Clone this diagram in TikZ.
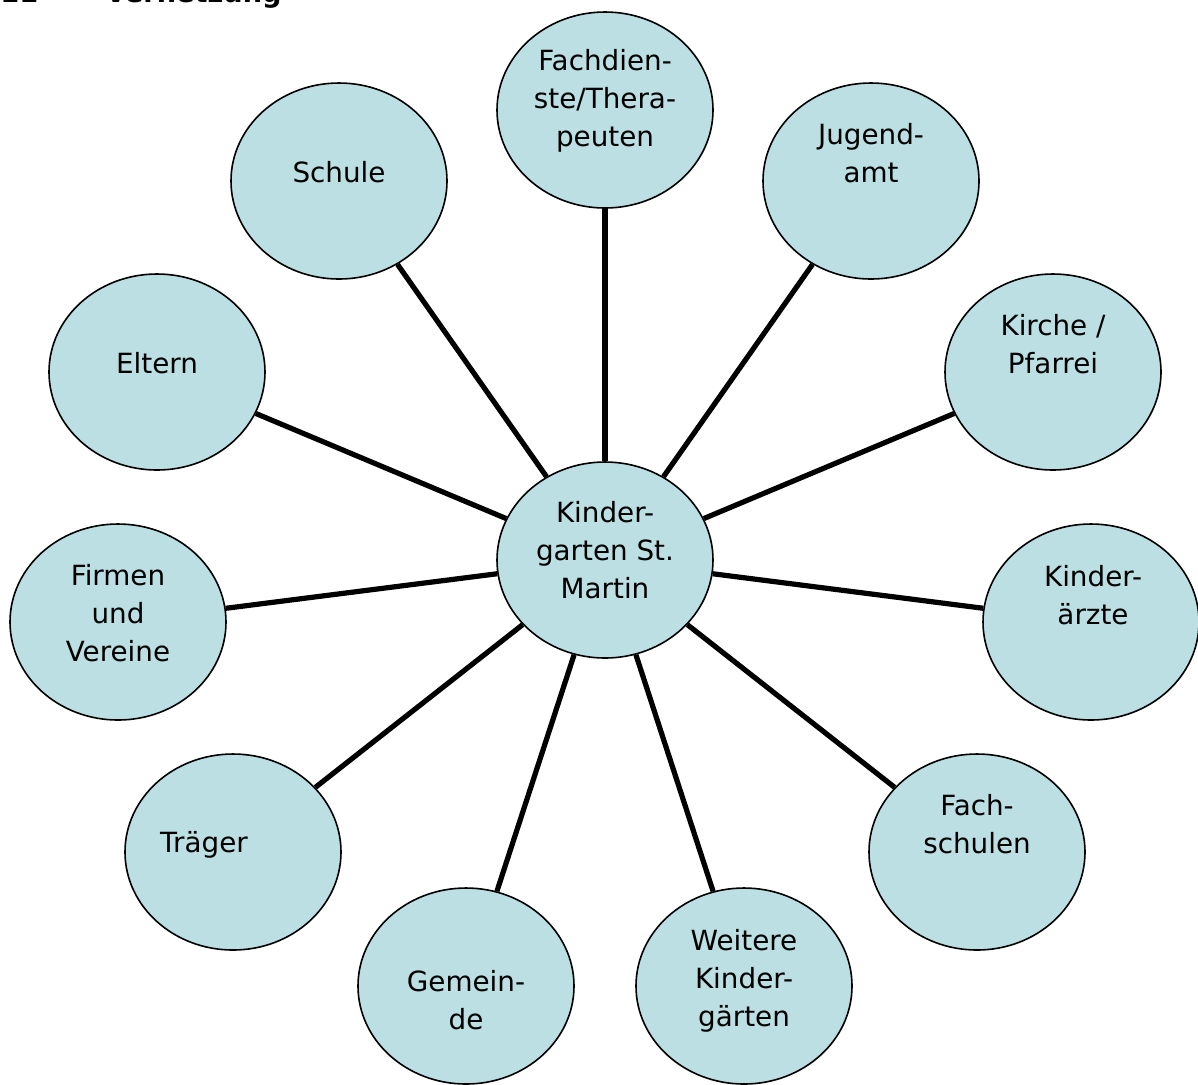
\documentclass[tikz,border=0pt]{standalone}
\usepackage{fontspec}
\setmainfont{DejaVu Sans}
\definecolor{partnerblue}{HTML}{BBDFE3}
\tikzset{
  partner/.style={draw=black, line width=0.8pt, fill=partnerblue, ellipse,
    minimum width=108pt, minimum height=98pt, inner sep=0pt},
  txt/.style={align=center, font=\fontsize{13.9}{19}\selectfont},
  link/.style={line width=2.6pt}
}
\usetikzlibrary{shapes.geometric}
\begin{document}
\begin{tikzpicture}[x=0.5pt, y=-0.5pt]
			\clip (0,0) rectangle (1198,1084);
			\useasboundingbox (0,0) rectangle (1198,1084);
			
			%Heading (cut off at the top)
			\node[anchor=base west, font=\fontsize{13.6}{16}\bfseries\selectfont, inner sep=0pt] (nr) at (0,2) {11};
			\node[anchor=base west, font=\fontsize{13.6}{16}\bfseries\selectfont, inner sep=0pt] (head) at (105,2) {Vernetzung};
			
			%Middle
			\node[partner, label={[txt, yshift=5pt]center:Kinder-\\garten St.\\Martin}] (kiga) at (605,560) {};
			
			%Partners
			\node[partner, label={[txt, yshift=4.5pt]center:Fachdien-\\ste/Thera-\\peuten}] (fach) at (605,110) {};
			\node[partner, label={[txt, yshift=14pt]center:Jugend-\\amt}] (jugend) at (871,181) {};
			\node[partner, label={[txt, yshift=4.5pt]center:Schule}] (schule) at (339,181) {};
			\node[partner, label={[txt, yshift=14pt]center:Kirche /\\Pfarrei}] (kirche) at (1053,372) {};
			\node[partner, label={[txt, yshift=4.5pt]center:Eltern}] (eltern) at (157,372) {};
			\node[partner, label={[txt, yshift=13.5pt, xshift=1pt]center:Kinder-\\ärzte}] (aerzte) at (1091,622) {};
			\node[partner, label={[txt, yshift=4.5pt]center:Firmen\\und\\Vereine}] (firmen) at (118,622) {};
			\node[partner, label={[txt, yshift=14pt]center:Fach-\\schulen}] (fs) at (977,852) {};
			\node[partner, label={[txt, yshift=3.5pt, xshift=-14.5pt]center:Träger}] (traeger) at (233,852) {};
			\node[partner, label={[txt, yshift=2.5pt]center:Weitere\\Kinder-\\gärten}] (weitere) at (744,986) {};
			\node[partner, label={[txt, yshift=-7pt]center:Gemein-\\de}] (gemeinde) at (466,986) {};
			
			%Links
			\foreach \p in {fach, jugend, schule, kirche, eltern, aerzte, firmen, fs, traeger, weitere, gemeinde}
				\draw[link] (kiga) -- (\p);
\end{tikzpicture}
\end{document}
